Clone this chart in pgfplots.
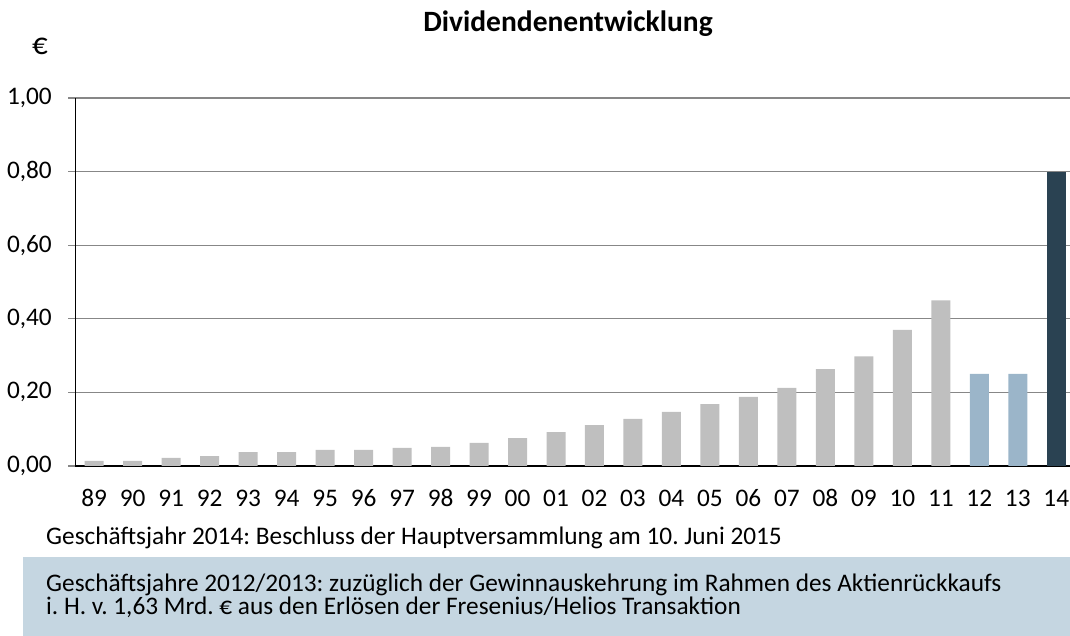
\documentclass[border=0pt]{standalone}
\usepackage{fontspec}
\setmainfont[Numbers=Lining]{Carlito}
\usepackage{pgfplots}
\pgfplotsset{compat=1.18}
\definecolor{bargrey}{HTML}{BFBFBF}
\definecolor{barblue}{HTML}{9BB5C9}
\definecolor{bardark}{HTML}{2A4252}
\definecolor{boxblue}{HTML}{C5D6E1}
\definecolor{gridgrey}{HTML}{878787}
\frenchspacing
\begin{document}
\begin{tikzpicture}[x=1pt,y=1pt,font=\fontsize{25.3}{30}\selectfont]
\useasboundingbox (0,0) rectangle (1070,636);
\fill[boxblue] (23,0) rectangle (1070,79);
\begin{axis}[
  at={(75pt,170pt)}, anchor=south west,
  scale only axis, width=995pt, height=368pt,
  xmin=-0.5, xmax=25.357, ymin=0, ymax=1,
  axis x line*=bottom, axis y line*=left,
  axis line style={-},
  x axis line style={black, line width=1.3pt},
  y axis line style={black, line width=1pt},
  ytick={0,0.2,0.4,0.6,0.8,1.0},
  ymajorgrids, grid style={gridgrey, line width=1.1pt},
  ytick align=outside, major tick length=7pt,
  ytick style={gridgrey, line width=1.1pt},
  xtick={0,...,25},
  xtick style={draw=none},
  xticklabels={89,90,91,92,93,94,95,96,97,98,99,00,01,02,03,04,05,06,07,08,09,10,11,12,13,14},
  xticklabel style={font=\fontsize{25.3}{30}\selectfont, anchor=base, inner sep=0pt, yshift=-34pt},
  yticklabel style={font=\fontsize{25.3}{30}\selectfont, anchor=east, inner sep=0pt, xshift=-16pt},
  /pgf/number format/assume math mode=true,
  yticklabel={\pgfmathprintnumber[fixed,fixed zerofill,precision=2,use comma]{\tick}},
  ybar, bar width=19pt, bar shift=0pt,
  clip=false,
]
\addplot[fill=bargrey, draw=none] coordinates {
(0,0.014) (1,0.014) (2,0.022) (3,0.027) (4,0.038) (5,0.038) (6,0.044) (7,0.044)
(8,0.049) (9,0.052) (10,0.063) (11,0.076) (12,0.092) (13,0.111) (14,0.128)
(15,0.147) (16,0.168) (17,0.188) (18,0.212) (19,0.263) (20,0.298) (21,0.37) (22,0.45)};
\addplot[fill=barblue, draw=none] coordinates {(23,0.25) (24,0.25)};
\addplot[fill=bardark, draw=none] coordinates {(25,0.80)};
\end{axis}
\node[anchor=base, inner sep=0pt, font=\bfseries\fontsize{29.5}{34}\selectfont] at (568,604) {Dividendenentwicklung};
\node[anchor=base west, inner sep=0pt, font=\fontsize{31}{34}\selectfont] at (32,581) {€};
\node[anchor=base west, inner sep=0pt] at (46,91) {Geschäftsjahr 2014: Beschluss der Hauptversammlung am 10. Juni 2015};
\node[anchor=base west, inner sep=0pt] at (46,44) {Geschäftsjahre 2012/2013: zuzüglich der Gewinnauskehrung im Rahmen des Aktienrückkaufs};
\node[anchor=base west, inner sep=0pt] at (46,21) {i. H. v. 1,63 Mrd. € aus den Erlösen der Fresenius/Helios Transaktion};
\end{tikzpicture}
\end{document}
